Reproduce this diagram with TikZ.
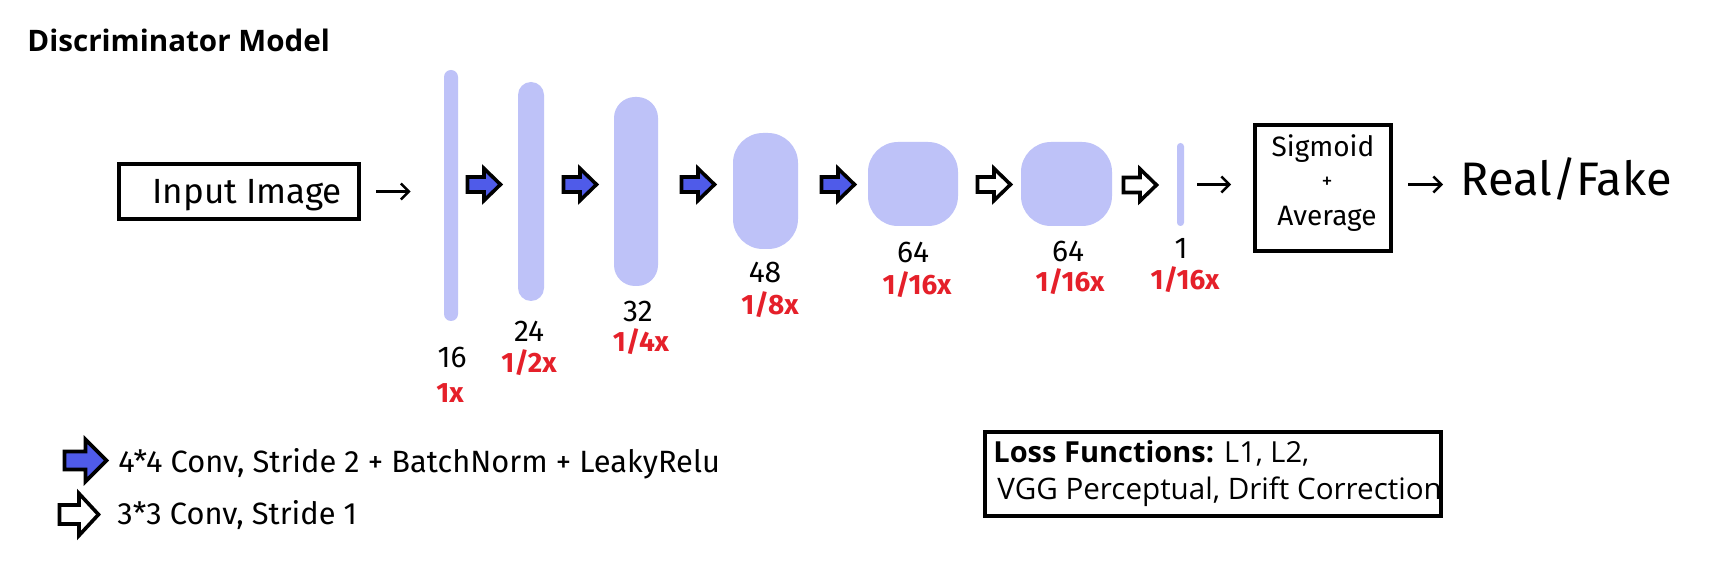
\documentclass[tikz,border=0pt]{standalone}
\usepackage{fontspec}
\setmainfont{Fira Sans}
\newfontfamily\osans{Open Sans}
\usetikzlibrary{arrows.meta}
\definecolor{lav}{HTML}{BEC2F8}
\definecolor{arrblue}{HTML}{4F5BE9}
\definecolor{lblred}{HTML}{E5202A}
\tikzset{
  layer/.style={fill=lav, draw=none, inner sep=0pt},
  frame/.style={draw=black, line width=2pt, inner sep=0pt, fill=white},
  txt/.style={inner sep=0pt, anchor=base},
  txtw/.style={inner sep=0pt, anchor=base west},
  numlbl/.style={txt, font=\fontsize{15}{17}\selectfont},
  scalelbl/.style={txt, text=lblred, font=\fontsize{14}{16}\selectfont\bfseries},
  thinarrow/.style={draw=black, line width=1.2pt, -{Straight Barb[length=4pt,width=8pt]}},
  blockarr/.style={draw=black, line width=1.8pt, line join=miter},
}
\newcommand\blockarrow[6]{%
  \filldraw[blockarr, fill=#6] ({#1-#3/2},{#2-#5/2}) -- ++({#3/2},0) -- ++(0,{-(#4-#5)/2})
    -- ++({#3/2},{#4/2}) -- ++({-#3/2},{#4/2}) -- ++(0,{-(#4-#5)/2}) -- ++({-#3/2},0) -- cycle;}
\begin{document}
\begin{tikzpicture}[x=0.5pt,y=-0.5pt]
\useasboundingbox[fill=white] (0,0) rectangle (1726,572);

% title
\node[txtw, font=\osans\fontsize{14.8}{17}\selectfont\bfseries] (title) at (27,52) {Discriminator Model};

% input
\node[frame, minimum width=120pt, minimum height=27.5pt] (inbox) at (239,191.5) {};
\node[txtw, font=\fontsize{17.5}{21}\selectfont] (intext) at (152,204) {Input Image};

% layers
\node[layer, minimum width=7pt, minimum height=125.5pt, rounded corners=3.5pt] (l1) at (451,195.5) {};
\node[layer, minimum width=13pt, minimum height=109.5pt, rounded corners=6.5pt] (l2) at (531,191.5) {};
\node[layer, minimum width=22pt, minimum height=94.5pt, rounded corners=10.5pt] (l3) at (636,191.5) {};
\node[layer, minimum width=32.5pt, minimum height=58pt, rounded corners=15pt] (l4) at (765.5,191) {};
\node[layer, minimum width=45pt, minimum height=42pt, rounded corners=15pt] (l5) at (913,184) {};
\node[layer, minimum width=45.5pt, minimum height=42pt, rounded corners=15pt] (l6) at (1066.5,184) {};
\node[layer, minimum width=3.5pt, minimum height=41.5pt, rounded corners=1.7pt] (l7) at (1180.5,184.5) {};

% block arrows
\blockarrow{484}{184.5}{33}{32}{15}{arrblue}
\blockarrow{580}{184.5}{33}{32}{15}{arrblue}
\blockarrow{698}{184.5}{33}{32}{15}{arrblue}
\blockarrow{838}{184.5}{33}{32}{15}{arrblue}
\blockarrow{994}{184.5}{33}{32}{15}{white}
\blockarrow{1140}{185}{33}{32}{15}{white}

% labels
\node[numlbl] (n1) at (452,368) {16};
\node[scalelbl] (s1) at (450,403) {1x};
\node[numlbl] (n2) at (529,342) {24};
\node[scalelbl] (s2) at (529,373) {1/2x};
\node[numlbl] (n3) at (638,322) {32};
\node[scalelbl] (s3) at (641,352) {1/4x};
\node[numlbl] (n4) at (765,283) {48};
\node[scalelbl] (s4) at (770,315) {1/8x};
\node[numlbl] (n5) at (913,263) {64};
\node[scalelbl] (s5) at (917,295) {1/16x};
\node[numlbl] (n6) at (1068,262) {64};
\node[scalelbl] (s6) at (1070,292) {1/16x};
\node[numlbl] (n7) at (1181,259) {1};
\node[scalelbl] (s7) at (1185,290) {1/16x};

% sigmoid box
\node[frame, minimum width=68pt, minimum height=63pt] (sig) at (1323,188) {};
\node[txt, font=\fontsize{14}{16}\selectfont] (sigt) at (1323,157) {Sigmoid};
\node[inner sep=0pt, font=\fontsize{11}{13}\selectfont] (plus) at (1327,183) {+};
\node[txt, font=\fontsize{14}{16}\selectfont] (avgt) at (1327,226) {Average};

% output
\node[txtw, font=\fontsize{23.5}{28}\selectfont] (rf) at (1460,196) {Real/Fake};

% thin arrows
\draw[thinarrow, shorten <=7.5pt, shorten >=16.5pt] (inbox.east) -- (inbox.east -| l1.west);
\draw[thinarrow, shorten <=6.5pt, shorten >=11pt] (l7.east) -- (l7.east -| sig.west);
\draw[thinarrow, shorten <=7.5pt, shorten >=8.5pt] (sig.east |- l7.east) -- (rf.west |- l7.east);

% legend
\blockarrow{85.5}{460.5}{42}{42}{18}{arrblue}
\blockarrow{79}{514.5}{39}{42}{19}{white}
\node[txtw, font=\fontsize{15.4}{18}\selectfont] (leg1) at (118,473) {4*4 Conv, Stride 2 + BatchNorm + LeakyRelu};
\node[txtw, font=\fontsize{15.4}{18}\selectfont] (leg2) at (117,524) {3*3 Conv, Stride 1};

% loss box
\node[frame, fill=none, minimum width=228pt, minimum height=42pt] (loss) at (1213,474) {};
\node[txtw, font=\osans\fontsize{14.5}{17}\selectfont] (loss1) at (993,463) {\textbf{Loss Functions:} L1, L2,};
\node[txtw, font=\osans\fontsize{14.8}{17}\selectfont] (loss2) at (997,500) {VGG Perceptual, Drift Correction};
\end{tikzpicture}
\end{document}
